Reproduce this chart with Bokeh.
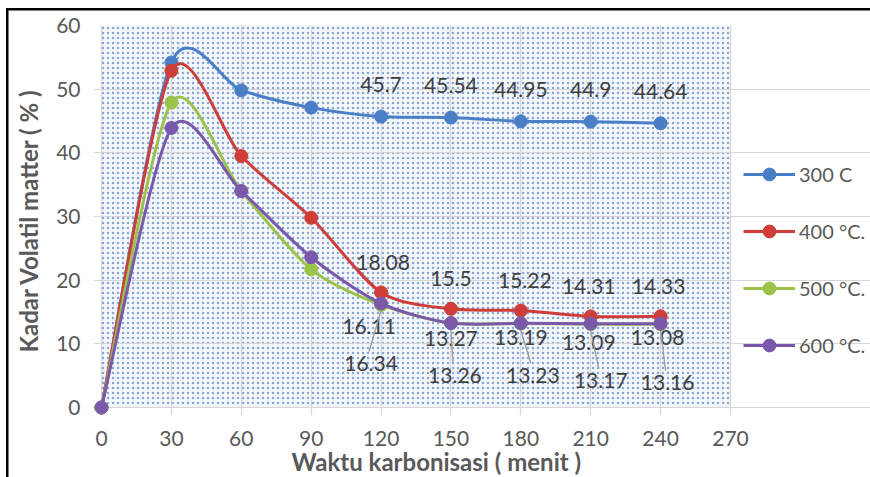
import numpy as np
from bokeh.plotting import figure
from bokeh.models import (Range1d, Legend, LegendItem, BoxAnnotation, FixedTicker,
                          ColumnDataSource, Title)
from bokeh.core.properties import value
from bokeh.embed import file_html
from bokeh.resources import INLINE

# ---- data ----
waktu = [0, 30, 60, 90, 120, 150, 180, 210, 240]
s300 = [0, 54.2, 49.8, 47.1, 45.7, 45.54, 44.95, 44.9, 44.64]
s400 = [0, 52.9, 39.5, 29.8, 18.08, 15.5, 15.22, 14.31, 14.33]
s500 = [0, 47.9, 34.0, 21.7, 16.11, 13.27, 13.19, 13.09, 13.08]
s600 = [0, 43.9, 34.0, 23.6, 16.34, 13.26, 13.23, 13.17, 13.16]
series_names = ["300 C", "400 \u00b0C.", "500 \u00b0C.", "600 \u00b0C."]
x_ticks = [0, 30, 60, 90, 120, 150, 180, 210, 240, 270]
y_ticks = [0, 10, 20, 30, 40, 50, 60]
X_MAX, Y_MAX = 270, 60

colors = ["#4a7fc8", "#cf3d38", "#9cc349", "#7b59aa"]
FONT = "Lato"
SMOOTH = 0.135

# layout (pixels): plot area 101..730 x 25..407; frame padded to show edge markers
W, H = 870, 477
AREA_L, AREA_T, AREA_W, AREA_H = 101, 25, 629, 382
PAD = 8
RIGHT_PAD = 0
px_x = AREA_W / X_MAX
px_y = AREA_H / Y_MAX
frame_l = AREA_L - PAD
frame_b = AREA_T + AREA_H + PAD
x0r = -PAD / px_x
x1r = (W - RIGHT_PAD - AREA_L) / px_x
y0r = -PAD / px_y

p = figure(width=W, height=H, output_backend="svg", toolbar_location=None,
           x_range=Range1d(x0r, x1r), y_range=Range1d(y0r, Y_MAX),
           min_border_left=frame_l, min_border_right=RIGHT_PAD, min_border_top=AREA_T,
           min_border_bottom=H - frame_b)
p.border_fill_alpha = 0
p.styles = {"background": "linear-gradient(#000,#000) 6px 8px / 2.5px 100% no-repeat, "
                          "linear-gradient(#000,#000) 6px 8px / 100% 2.5px no-repeat, #ffffff"}

p.background_fill_color = "#ffffff"
p.outline_line_color = None
bg = BoxAnnotation(left=0, right=X_MAX, bottom=0, top=Y_MAX,
                   fill_color="#f4f7fb", fill_alpha=1.0, line_color="#d0d0d0", line_width=1,
                   hatch_pattern="dot", hatch_color="#5b82c4", hatch_alpha=0.7,
                   hatch_scale=5, hatch_weight=1.6, level="image")
p.add_layout(bg)

for g in (p.xgrid, p.ygrid):
    g.grid_line_color = "#d6d6d6"
    g.grid_line_width = 1.2
    g.level = "underlay"
p.xgrid.ticker = FixedTicker(ticks=x_ticks)
p.ygrid.ticker = FixedTicker(ticks=y_ticks)
p.ygrid.bounds = (0, X_MAX)
p.xgrid.bounds = (0, Y_MAX)

for ax in (p.xaxis[0], p.yaxis[0]):
    ax.axis_line_color = None
    ax.major_tick_line_color = None
    ax.minor_tick_line_color = None
    ax.major_label_text_font = FONT
    ax.major_label_text_font_size = "21px"
    ax.major_label_text_color = "#595959"
    ax.axis_label_text_font = FONT
    ax.axis_label_text_font_size = "24px"
    ax.axis_label_text_font_style = "bold"
    ax.axis_label_text_color = "#595959"

p.xaxis.ticker = FixedTicker(ticks=x_ticks)
p.xaxis.bounds = (0, X_MAX)
p.yaxis.ticker = FixedTicker(ticks=y_ticks)
p.yaxis.bounds = (0, Y_MAX)
p.yaxis.axis_label = "Kadar Volatil matter ( % )"
p.xaxis.major_label_standoff = 9
p.yaxis.major_label_standoff = 7
p.yaxis.axis_label_standoff = 10

xt = Title(text="Waktu karbonisasi ( menit )", align="left", offset=198, standoff=-7,
           text_font=FONT, text_font_size="24px", text_font_style="bold",
           text_color="#595959")
p.add_layout(xt, "below")


def bezier_ctrl(xs, ys, k):
    P = np.column_stack([np.asarray(xs, float), np.asarray(ys, float)])
    Pp = np.vstack([P[:1], P, P[-1:]])
    n = len(P)
    out = dict(x0=[], y0=[], x1=[], y1=[], cx0=[], cy0=[], cx1=[], cy1=[])
    for i in range(n - 1):
        a, b = P[i], P[i + 1]
        c0 = a + (Pp[i + 2] - Pp[i]) * k
        c1 = b - (Pp[i + 3] - Pp[i + 1]) * k
        out["x0"].append(a[0]); out["y0"].append(a[1])
        out["x1"].append(b[0]); out["y1"].append(b[1])
        out["cx0"].append(c0[0]); out["cy0"].append(c0[1])
        out["cx1"].append(c1[0]); out["cy1"].append(c1[1])
    return out


all_series = [s300, s400, s500, s600]
items = []
for name, ys, c in zip(series_names, all_series, colors):
    src = ColumnDataSource(bezier_ctrl(waktu, ys, SMOOTH))
    rb = p.bezier(x0="x0", y0="y0", x1="x1", y1="y1", cx0="cx0", cy0="cy0",
                  cx1="cx1", cy1="cy1", source=src, line_color=c, line_width=3)
    rs = p.scatter(waktu, ys, size=13, marker="circle", fill_color=c, line_color=c)
    items.append(LegendItem(label=name, renderers=[rb, rs]))

# ---- data labels ----
def add_labels(xs, ys, dx, dy):
    p.text(x=xs, y=ys, text=[f"{v:g}" for v in ys], x_offset=dx, y_offset=dy,
           text_align="center", text_baseline="middle", text_font=value(FONT),
           text_font_size="21px", text_color="#404040")

idx = slice(4, 9)
xl = waktu[idx]
add_labels(xl, s300[idx], [0] * 5, [-32] * 5)
add_labels(xl, s400[idx], [2, 0, 4, -2, -2], [-30] * 5)
add_labels(xl, s500[idx], [-12, 0, 0, -2, -3], [22, 15, 14, 18, 13])
dx6 = [-10, 4, 12, 10, 7]
dy6 = [60, 52, 52, 57, 59]
add_labels(xl, s600[idx], dx6, dy6)

# leader lines for the lower labels (pixel offsets converted to data units)
lx0 = [x + (d - 2) / px_x for x, d in zip(xl, dx6)]
ly0 = [y - (o - 12) / px_y for y, o in zip(s600[idx], dy6)]
lx1 = list(xl)
ly1 = [y - 7 / px_y for y in s600[idx]]
p.segment(x0=lx0, y0=ly0, x1=lx1, y1=ly1, line_color="#9a9a9a", line_width=1.3)

legend = Legend(items=items, location=(PAD + AREA_W + 13, PAD + 46), orientation="vertical",
                label_text_font=FONT, label_text_font_size="20px",
                label_text_color="#595959", glyph_width=52, glyph_height=32,
                label_height=32, spacing=25, padding=0, margin=0,
                label_standoff=4, border_line_color=None,
                background_fill_alpha=0)
p.add_layout(legend, "center")

open("out.html", "w").write(file_html(p, INLINE))
